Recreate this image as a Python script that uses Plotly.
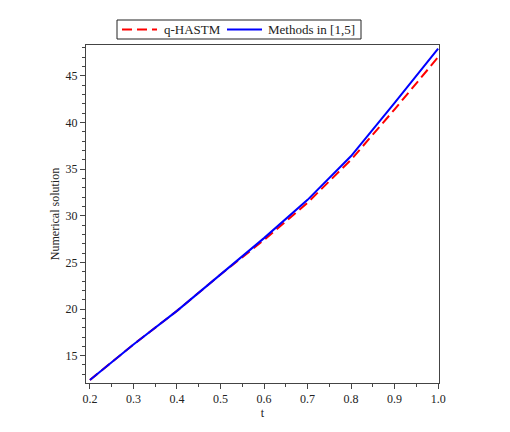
import plotly.graph_objects as go

t = [0.2, 0.3, 0.4, 0.5, 0.6, 0.7, 0.8, 0.9, 1.0]
q_hastm = [12.4, 16.2, 19.8, 23.7, 27.4, 31.4, 36.0, 41.4, 47.0]
methods = [12.4, 16.2, 19.8, 23.7, 27.6, 31.7, 36.4, 42.1, 47.9]
names = ["q-HASTM", "Methods in [1,5]"]
colors = ["#ff0000", "#0000ff"]
dashes = ["10px,5px", "solid"]

x_ticks = [0.2, 0.3, 0.4, 0.5, 0.6, 0.7, 0.8, 0.9, 1.0]
x_labels = ["0.2", "0.3", "0.4", "0.5", "0.6", "0.7", "0.8", "0.9", "1.0"]
y_ticks = [15, 20, 25, 30, 35, 40, 45]

font = "Liberation Serif"
axcol = "#444444"

fig = go.Figure()
for ys, nm, c, d in zip([q_hastm, methods], names, colors, dashes):
    fig.add_trace(go.Scatter(x=t, y=ys, mode="lines", name=nm,
                             line=dict(color=c, width=2, dash=d)))

# plot area in page pixels (for legend placement in paper coordinates)
PL, PR, PT, PB = 86.0, 439.0, 45.0, 383.0
def px(x):
    return (x - PL) / (PR - PL)
def py(y):
    return (PB - y) / (PB - PT)

shapes = [
    dict(type="rect", xref="paper", yref="paper", x0=px(117), x1=px(361), y0=py(39), y1=py(20),
         line=dict(color="#222222", width=1), fillcolor="white", layer="above"),
]
samples = [(122, 157, 162), (227, 262, 266)]
annotations = []
for (a, b, tx), nm, c, d in zip(samples, names, colors, dashes):
    shapes.append(dict(type="line", xref="paper", yref="paper", x0=px(a), x1=px(b),
                       y0=py(29.5), y1=py(29.5), line=dict(color=c, width=2, dash=d)))
    annotations.append(dict(xref="paper", yref="paper", x=px(tx), y=py(29.5), text=nm,
                            showarrow=False, xanchor="left", yanchor="middle",
                            font=dict(family=font, size=13, color="#222222")))

fig.update_layout(
    width=510, height=432,
    paper_bgcolor="white", plot_bgcolor="white",
    margin=dict(l=78, r=79, t=37, b=57),
    font=dict(family=font, size=12, color="#222222"),
    showlegend=False,
    shapes=shapes, annotations=annotations,
    xaxis=dict(range=[0.191, 1.002], tickvals=x_ticks, ticktext=x_labels,
               showgrid=False, zeroline=False, showline=True, linecolor=axcol,
               linewidth=1, mirror=True, ticks="outside", ticklen=5, tickcolor=axcol,
               minor=dict(dtick=0.05, tick0=0.2, ticks="outside", ticklen=3, tickcolor=axcol),
               title=dict(text="t", standoff=2, font=dict(family=font, size=12)),
               tickfont=dict(family=font, size=12)),
    yaxis=dict(range=[12.07, 48.3], tickvals=y_ticks,
               showgrid=False, zeroline=False, showline=True, linecolor=axcol,
               linewidth=1, mirror=True, ticks="outside", ticklen=5, tickcolor=axcol,
               minor=dict(dtick=1, ticks="outside", ticklen=3, tickcolor=axcol),
               title=dict(text="Numerical solution", standoff=3, font=dict(family=font, size=12)),
               tickfont=dict(family=font, size=12)),
)

fig.write_html("out.html")
